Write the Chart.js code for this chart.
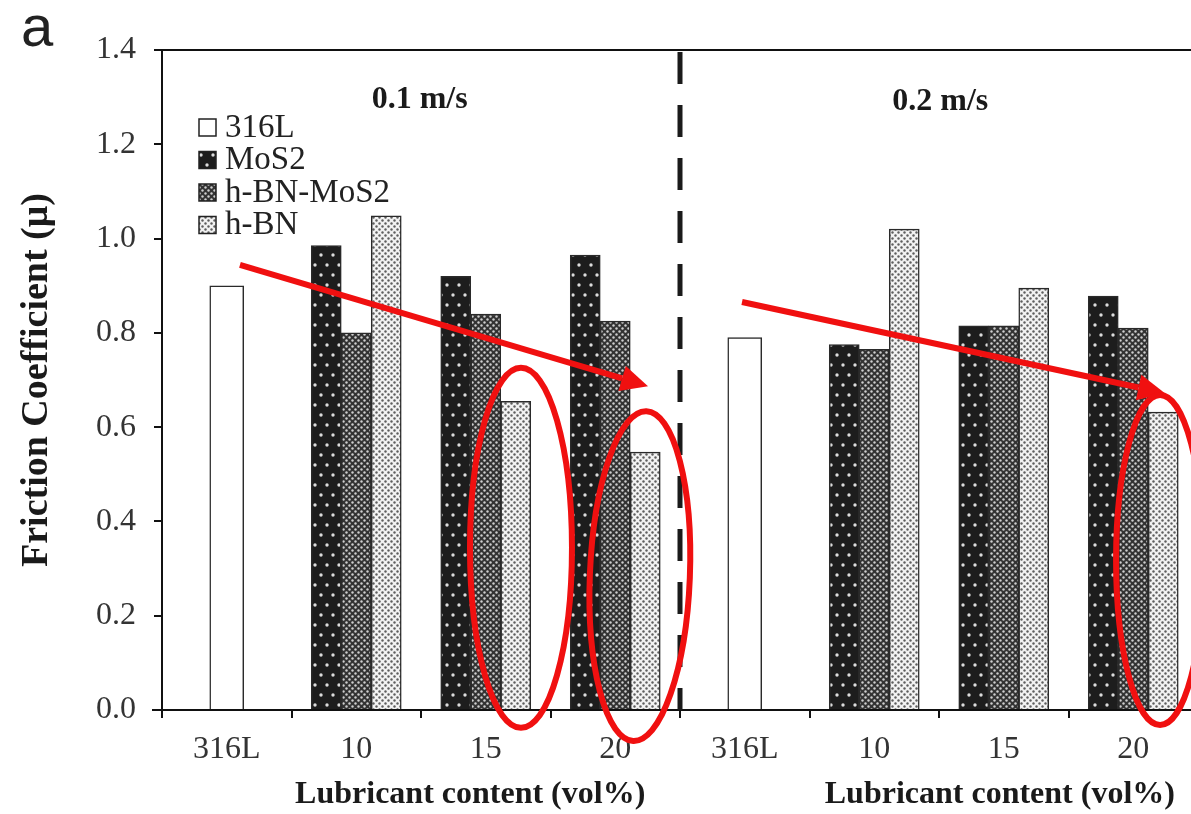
<!DOCTYPE html>
<html>
<head>
<meta charset="utf-8">
<script src="https://cdn.jsdelivr.net/npm/chart.js@4/dist/chart.umd.min.js"></script>
<style>
  html, body { margin: 0; padding: 0; background: #fff; overflow: hidden; }
  #wrap { width: 1210px; height: 814px; }
</style>
</head>
<body>
<div id="wrap"><canvas id="myChart" width="1210" height="814"></canvas></div>
<script>
{
  // data
  const categories = ['316L', '10', '15', '20', '316L', '10', '15', '20'];
  const s316L = [0.90, null, null, null, 0.79, null, null, null];
  const mos2 = [null, 0.985, 0.92, 0.965, null, 0.775, 0.815, 0.878];
  const hbnMos2 = [null, 0.80, 0.84, 0.825, null, 0.765, 0.815, 0.81];
  const hbn = [null, 1.048, 0.655, 0.547, null, 1.02, 0.895, 0.632];
  const yTickValues = [0, 0.2, 0.4, 0.6, 0.8, 1.0, 1.2, 1.4];
  const seriesNames = ['316L', 'MoS2', 'h-BN-MoS2', 'h-BN'];
  const speedLabels = ['0.1 m/s', '0.2 m/s'];
  const xTitle = 'Lubricant content (vol%)';

  const SERIF = "'Liberation Serif', 'Times New Roman', serif";
  const RED = '#f01010';

  const canvas = document.getElementById('myChart');
  const ctx = canvas.getContext('2d');

  const makePattern = (w, h, bg, dotColor, dots, r) => {
    const c = document.createElement('canvas');
    c.width = w;
    c.height = h;
    const g = c.getContext('2d');
    g.fillStyle = bg;
    g.fillRect(0, 0, w, h);
    g.fillStyle = dotColor;
    for (const [x, y] of dots) {
      g.beginPath();
      g.arc(x, y, r, 0, Math.PI * 2);
      g.fill();
    }
    return ctx.createPattern(c, 'repeat');
  };

  const patMos2 = makePattern(12, 20, '#1d1d1d', '#dcdcdc', [[3, 5], [9, 15]], 1.7);
  const patHbnMos2 = makePattern(6, 6, '#333', '#cfcfcf', [[1.5, 1.5], [4.5, 4.5]], 1.2);
  const patHbn = makePattern(6, 6, '#f2f2f2', '#5e5e5e', [[1.5, 1.5], [4.5, 4.5]], 1.2);
  const fills = ['#ffffff', patMos2, patHbnMos2, patHbn];

  // helpers: category index (may be fractional) / value -> pixel
  const toPx = (chart, i, v) => {
    const xs = chart.scales.x;
    const ys = chart.scales.y;
    const step = (xs.right - xs.left) / categories.length;
    return [xs.left + (i + 0.5) * step, ys.getPixelForValue(v)];
  };

  const drawArrow = (c, x1, y1, x2, y2) => {
    const ang = Math.atan2(y2 - y1, x2 - x1);
    const hl = 27, hw = 13;
    const bx = x2 - hl * Math.cos(ang);
    const by = y2 - hl * Math.sin(ang);
    c.strokeStyle = RED;
    c.fillStyle = RED;
    c.lineWidth = 6;
    c.beginPath();
    c.moveTo(x1, y1);
    c.lineTo(bx, by);
    c.stroke();
    c.beginPath();
    c.moveTo(x2, y2);
    c.lineTo(bx + hw * Math.sin(ang), by - hw * Math.cos(ang));
    c.lineTo(bx - hw * Math.sin(ang), by + hw * Math.cos(ang));
    c.closePath();
    c.fill();
  };

  const annotations = {
    id: 'annotations',
    afterDraw(chart) {
      const c = chart.ctx;
      const area = chart.chartArea;
      c.save();

      // top frame line, x axis stub left of the y axis
      c.strokeStyle = '#111';
      c.lineWidth = 2;
      c.beginPath();
      c.moveTo(area.left, area.top);
      c.lineTo(area.right, area.top);
      c.moveTo(area.left - 10, area.bottom);
      c.lineTo(area.left, area.bottom);
      c.stroke();

      // dashed separator between speeds
      const [dx] = toPx(chart, 3.5, 0);
      c.setLineDash([32, 21]);
      c.lineWidth = 5;
      c.strokeStyle = '#1a1a1a';
      c.beginPath();
      c.moveTo(dx, area.top + 2);
      c.lineTo(dx, area.bottom);
      c.stroke();
      c.setLineDash([]);

      // speed labels
      c.fillStyle = '#1a1a1a';
      c.font = 'bold 32px ' + SERIF;
      c.textAlign = 'center';
      c.textBaseline = 'middle';
      let p = toPx(chart, 1.49, 1.294);
      c.fillText(speedLabels[0], p[0], p[1]);
      p = toPx(chart, 5.51, 1.29);
      c.fillText(speedLabels[1], p[0], p[1]);

      // legend
      c.font = '33px ' + SERIF;
      c.textAlign = 'left';
      for (let k = 0; k < seriesNames.length; k++) {
        const lx = area.left + 37;
        const ly = area.top + 77 + k * 32.5;
        c.fillStyle = fills[k];
        c.fillRect(lx, ly - 8, 17, 17);
        c.strokeStyle = '#222';
        c.lineWidth = 1.5;
        c.strokeRect(lx, ly - 8, 17, 17);
        c.fillStyle = '#222';
        c.fillText(seriesNames[k], lx + 26, ly + 1);
      }

      // x axis titles
      c.font = 'bold 32px ' + SERIF;
      c.textAlign = 'center';
      c.fillStyle = '#1a1a1a';
      c.fillText(xTitle, toPx(chart, 1.88, 0)[0], 795);
      c.fillText(xTitle, toPx(chart, 5.97, 0)[0], 795);

      // panel letter
      c.font = '58px "Liberation Sans", Arial, sans-serif';
      c.textAlign = 'left';
      c.textBaseline = 'alphabetic';
      c.fillStyle = '#222';
      c.fillText('a', 21, 46);

      // red arrows
      let a = toPx(chart, 0.102, 0.944), b = toPx(chart, 3.253, 0.687);
      drawArrow(c, a[0], a[1], b[0], b[1]);
      a = toPx(chart, 3.979, 0.8655);
      b = toPx(chart, 7.245, 0.672);
      drawArrow(c, a[0], a[1], b[0], b[1]);

      // red ellipses
      c.strokeStyle = RED;
      c.lineWidth = 6;
      const ells = [[2.272, 0.344, 51, 180, 0], [3.19, 0.284, 50, 165, 0.04], [7.207, 0.318, 44, 165, 0]];
      for (const [i, v, rx, ry, rot] of ells) {
        const q = toPx(chart, i, v);
        c.beginPath();
        c.ellipse(q[0], q[1], rx, ry, rot, 0, Math.PI * 2);
        c.stroke();
      }
      c.restore();
    }
  };

  const mkSet = (label, data, k, thick) => ({
    label,
    data,
    backgroundColor: fills[k],
    borderColor: '#2a2a2a',
    borderWidth: 1.5,
    barThickness: thick,
    skipNull: true,
  });

  // eslint-disable-next-line no-undef, no-unused-vars
  const chart = new Chart(ctx, {
    type: 'bar',
    data: {
      labels: categories,
      datasets: [
        mkSet(seriesNames[0], s316L, 0, 34),
        mkSet(seriesNames[1], mos2, 1, 30),
        mkSet(seriesNames[2], hbnMos2, 2, 30),
        mkSet(seriesNames[3], hbn, 3, 30),
      ],
    },
    options: {
      responsive: false,
      animation: false,
      devicePixelRatio: 1,
      layout: { padding: { top: 50, right: 12, left: 0, bottom: 0 } },
      plugins: { legend: { display: false }, tooltip: { enabled: false } },
      scales: {
        x: {
          grid: { drawOnChartArea: false, drawTicks: true, tickLength: 8, color: '#111', lineWidth: 2, offset: true },
          border: { color: '#111', width: 2 },
          ticks: { font: { family: SERIF, size: 32 }, color: '#333', padding: 12, maxRotation: 0, autoSkip: false },
          afterFit: (scale) => { scale.height = 104; },
        },
        y: {
          min: 0,
          max: 1.4,
          afterBuildTicks: (scale) => { scale.ticks = yTickValues.map((v) => ({ value: v })); },
          grid: { drawOnChartArea: false, drawTicks: true, tickLength: 8, color: '#111', lineWidth: 2 },
          border: { color: '#111', width: 2 },
          ticks: { font: { family: SERIF, size: 32 }, color: '#333', padding: 18, callback: (v) => Number(v).toFixed(1) },
          title: {
            display: true,
            text: 'Friction Coefficient (μ)',
            font: { family: SERIF, size: 38, weight: 'bold' },
            color: '#1a1a1a',
            padding: { top: 14, bottom: 0 },
          },
          afterFit: (scale) => { scale.width = 162; },
        },
      },
    },
    plugins: [annotations],
  });
}
</script>
</body>
</html>
